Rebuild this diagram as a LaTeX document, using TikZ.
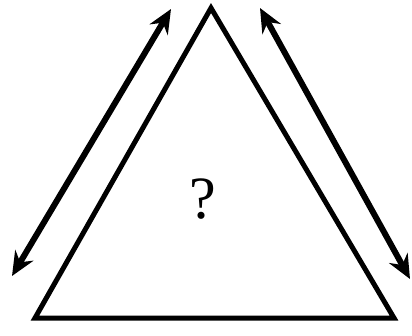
\documentclass[tikz,border=0pt]{standalone}
\usepackage{fontspec}
\setmainfont{Liberation Serif}
\usetikzlibrary{arrows.meta}
\begin{document}
\begin{tikzpicture}[x=1pt,y=-1pt,
  tri/.style={line width=5pt,line join=miter},
  dbl/.style={line width=6pt,{Stealth[length=24pt,width=21pt,inset=8pt]}-{Stealth[length=24pt,width=21pt,inset=8pt]}},
  qmark/.style={font=\fontsize{60}{60}\selectfont,inner sep=0pt}]
\useasboundingbox (0,0) rectangle (412,335);
\coordinate (A) at (211,8);
\coordinate (B) at (35,318);
\coordinate (C) at (394,318);
\draw[tri] (A) -- (B) -- (C) -- cycle;
\coordinate (l1) at (12,276);
\coordinate (l2) at (171,9);
\coordinate (r1) at (260,8);
\coordinate (r2) at (410,279);
\draw[dbl] (l1) -- (l2);
\draw[dbl] (r1) -- (r2);
\node[qmark] (q) at (203,199) {?};
\end{tikzpicture}
\end{document}
